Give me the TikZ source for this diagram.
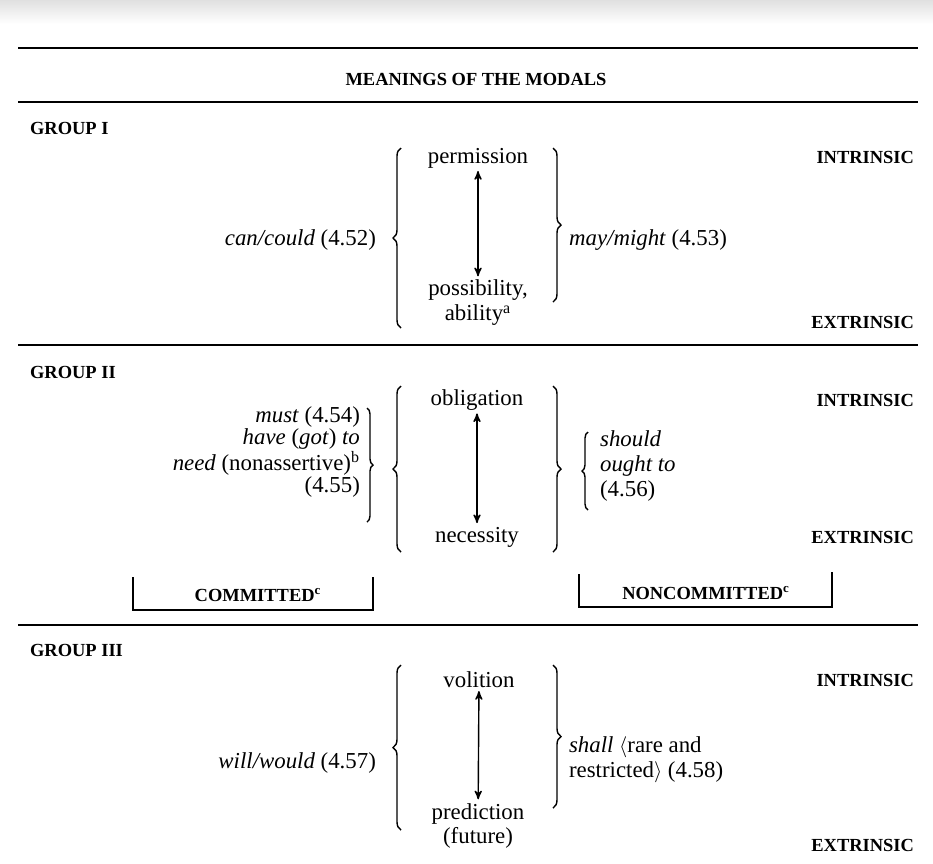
\documentclass[tikz,border=0pt]{standalone}
\usepackage{fontspec}
\setmainfont{Liberation Serif}
\usepackage{tikz}
\usetikzlibrary{arrows,positioning,decorations.pathreplacing}
\tikzset{
    %Define standard arrow tip
    >=stealth',
    %Define style for the modal words and meanings
    modalword/.style={
             inner sep=1pt,
             font=\fontsize{13}{14.2}\selectfont},
    %Define style for the capital labels
    capslabel/.style={
             inner sep=1pt,
             font=\fontsize{10.5}{12}\selectfont\bfseries},
    % Define brace style
    modalbrace/.style={
            decorate,
            decoration={brace, amplitude=0.16cm},
            thick},
    % Define arrow style
    meaningarrow/.style={
            <->,
            thick,
            shorten >=1pt,
            shorten <=0.5pt},
    ruleline/.style={
            line width=1.1pt}
}
\begin{document}
\begin{tikzpicture}[x=0.02cm, y=-0.02cm]
 \useasboundingbox (0,0) rectangle (933,863);
 \shade[top color=black!12, bottom color=white] (0,0) rectangle (933,24);
 % rules and title
 \draw[ruleline] (18,48) -- (918,48);
 \node[capslabel] (title) at (476,79) {MEANINGS OF THE MODALS};
 \draw[ruleline] (18,102) -- (918,102);
 \draw[ruleline] (18,345) -- (918,345);
 \draw[ruleline] (18,625) -- (918,625);
 % group I
 \node[capslabel, anchor=west] (groupone) at (28,128) {GROUP I};
 \node[capslabel, anchor=east] (introne) at (916,157) {INTRINSIC};
 \node[capslabel, anchor=east] (extrone) at (916,322) {EXTRINSIC};
 \node[modalword] (perm) at (478,158) {permission};
 \node[modalword, align=center] (poss) at (478,303) {possibility,\\ability\textsuperscript{a}};
 \node[modalword, anchor=east] (can) at (378,240) {\textit{can/could} (4.52)};
 \node[modalword, anchor=west] (may) at (567,240) {\textit{may/might} (4.53)};
 \draw[modalbrace] (401,328) -- (401,148);
 \draw[modalbrace] (553,148) -- (553,302);
 \draw[meaningarrow] (perm) -- (poss);
 % group II
 \node[capslabel, anchor=west] (grouptwo) at (28,372) {GROUP II};
 \node[capslabel, anchor=east] (intrtwo) at (916,400) {INTRINSIC};
 \node[capslabel, anchor=east] (extrtwo) at (916,537) {EXTRINSIC};
 \node[modalword] (oblig) at (477,400) {obligation};
 \node[modalword] (necess) at (477,537) {necessity};
 \node[modalword, align=right, anchor=east, font=\fontsize{13}{12.6}\selectfont] (must) at (362,452)
   {\textit{must} (4.54)\\\textit{have} (\textit{got}) \textit{to}\\\textit{need} (nonassertive)\textsuperscript{b}\\(4.55)};
 \node[modalword, align=left, anchor=west] (should) at (598,466)
   {\textit{should}\\\textit{ought to}\\(4.56)};
 \draw[modalbrace] (401,552) -- (401,386);
 \draw[modalbrace] (553,386) -- (553,552);
 \draw[modalbrace, decoration={amplitude=0.12cm}] (367,408) -- (367,522);
 \draw[modalbrace, decoration={amplitude=0.12cm}] (588,510) -- (588,432);
 \draw[meaningarrow] (oblig) -- (necess);
 % committed / noncommitted
 \node[capslabel] (commit) at (258,595) {COMMITTED\textsuperscript{c}};
 \node[capslabel] (noncommit) at (706,593) {NONCOMMITTED\textsuperscript{c}};
 \draw[thick] (133,577) |- (373,610) -- (373,577);
 \draw[thick] (579,574) |- (832,607) -- (832,572);
 % group III
 \node[capslabel, anchor=west] (groupthree) at (28,650) {GROUP III};
 \node[capslabel, anchor=east] (intrthree) at (916,680) {INTRINSIC};
 \node[capslabel, anchor=east] (extrthree) at (916,845) {EXTRINSIC};
 \node[modalword] (volit) at (479,680) {volition};
 \node[modalword, align=center] (pred) at (478,826) {prediction\\(future)};
 \node[modalword, anchor=east] (will) at (378,763) {\textit{will/would} (4.57)};
 \node[modalword, align=left, anchor=west] (shall) at (567,760)
   {\textit{shall} $\langle$rare and\\restricted$\rangle$ (4.58)};
 \draw[modalbrace] (401,830) -- (401,665);
 \draw[modalbrace] (553,665) -- (553,808);
 \draw[meaningarrow] (volit) -- (pred);
\end{tikzpicture}
\end{document}
